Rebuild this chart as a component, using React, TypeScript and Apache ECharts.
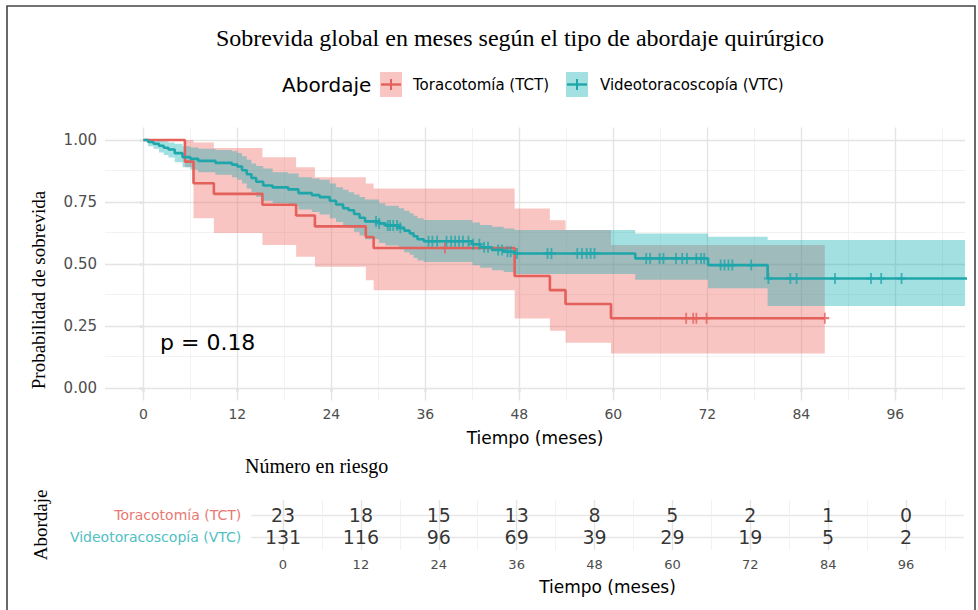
import React, { useEffect, useRef } from "react";
import * as echarts from "echarts";

// ---- Data ----
const tctTime = [0, 5.3, 6.4, 9.0, 15.2, 19.5, 21.9, 28.4, 29.4, 47.4, 51.9, 53.9, 59.7, 87.0];
const tctSurv = [1, 0.913, 0.826, 0.783, 0.739, 0.696, 0.652, 0.609, 0.565, 0.452, 0.395, 0.339, 0.282, 0.282];
const tctUpper = [1, 1.0, 0.99, 0.968, 0.931, 0.89, 0.85, 0.825, 0.805, 0.724, 0.677, 0.637, 0.577, 0.577];
const tctLower = [1, 0.89, 0.685, 0.625, 0.577, 0.53, 0.489, 0.435, 0.395, 0.281, 0.231, 0.183, 0.14, 0.14];
const tctCensor = [38.5, 69.3, 70.2, 70.6, 71.9, 87.0];

const vtcTime = [0, 0.6, 1.3, 2.0, 2.6, 3.2, 4.0, 5.0, 6.0, 7.0, 9.2, 11.3, 12.0, 12.6, 13.2, 13.8, 14.4, 15.3, 16.5, 18.5, 19.8, 21.5, 22.5, 23.8, 24.6, 25.5, 26.2, 26.9, 27.6, 28.3, 30.1, 30.9, 32.6, 33.3, 34.0, 34.5, 35.0, 35.8, 42.0, 43.0, 44.5, 46.0, 47.4, 62.8, 72.1, 79.7, 106];
const vtcSurv = [1.0, 0.992, 0.985, 0.977, 0.969, 0.962, 0.947, 0.931, 0.924, 0.916, 0.908, 0.901, 0.893, 0.878, 0.862, 0.847, 0.832, 0.817, 0.809, 0.801, 0.786, 0.778, 0.77, 0.755, 0.74, 0.725, 0.717, 0.702, 0.687, 0.672, 0.664, 0.656, 0.646, 0.635, 0.624, 0.612, 0.6, 0.592, 0.58, 0.568, 0.557, 0.55, 0.543, 0.523, 0.496, 0.442, 0.442];
const vtcUpper = [1.0, 1.0, 1.0, 1.0, 0.995, 0.99, 0.985, 0.975, 0.97, 0.965, 0.96, 0.955, 0.948, 0.935, 0.92, 0.905, 0.895, 0.885, 0.87, 0.865, 0.85, 0.845, 0.84, 0.825, 0.81, 0.8, 0.79, 0.78, 0.77, 0.76, 0.745, 0.735, 0.725, 0.715, 0.705, 0.695, 0.685, 0.678, 0.668, 0.658, 0.65, 0.643, 0.637, 0.623, 0.61, 0.597, 0.597];
const vtcLower = [1.0, 0.975, 0.965, 0.95, 0.94, 0.93, 0.91, 0.89, 0.88, 0.87, 0.86, 0.85, 0.84, 0.825, 0.805, 0.79, 0.77, 0.755, 0.745, 0.735, 0.72, 0.71, 0.7, 0.685, 0.67, 0.655, 0.645, 0.63, 0.615, 0.6, 0.585, 0.575, 0.56, 0.548, 0.538, 0.525, 0.515, 0.508, 0.495, 0.485, 0.475, 0.468, 0.46, 0.437, 0.403, 0.331, 0.331];
const vtcCensor = [29.7, 30.1, 31.2, 31.5, 31.9, 32.4, 32.8, 36.4, 36.9, 37.5, 38.7, 39.3, 39.8, 40.3, 40.8, 41.5, 42.1, 42.9, 43.5, 44.0, 45.3, 45.8, 46.5, 46.9, 47.7, 51.6, 52.1, 55.4, 56.0, 56.6, 57.1, 57.6, 64.2, 64.7, 65.9, 66.4, 68.0, 68.8, 69.4, 70.6, 71.2, 71.6, 73.7, 74.2, 74.7, 75.2, 77.6, 79.8, 82.6, 83.4, 88.3, 92.9, 94.2, 96.8];

const riskTimes = [0, 12, 24, 36, 48, 60, 72, 84, 96];
const riskTct = [23, 18, 15, 13, 8, 5, 2, 1, 0];
const riskVtc = [131, 116, 96, 69, 39, 29, 19, 5, 2];

const xTicks = [0, 12, 24, 36, 48, 60, 72, 84, 96];
const xMinor = [6, 18, 30, 42, 54, 66, 78, 90, 102];
const yTicks = [0, 0.25, 0.5, 0.75, 1];
const yMinor = [0.125, 0.375, 0.625, 0.875];

const groupNames = ["Toracotomía (TCT)", "Videotoracoscopía (VTC)"];

// ---- Styles ----
const RED = "#E4605B";
const TEAL = "#1FA6AA";
const RED_FILL = "rgba(240,110,105,0.40)";
const TEAL_FILL = "rgba(0,170,175,0.36)";
const RED_LABEL = "#E97872";
const TEAL_LABEL = "#4FC0C3";
const SANS = "DejaVu Sans";
const SERIF = "Liberation Serif";
const MAJOR = "#e4e4e4";
const MINOR = "#efefef";

const X_MIN = -4.9;
const X_MAX = 104.9;

function survAt(times: number[], surv: number[], t: number) {
  let v = surv[0];
  for (let i = 0; i < times.length; i++) {
    if (times[i] <= t) v = surv[i];
  }
  return v;
}

const PLUS = "path://M4,0H6V4H10V6H6V10H4V6H0V4H4Z";

function bandSeries(name: string, times: number[], upper: number[], lower: number[], fill: string, z: number) {
  return {
    name,
    type: "custom",
    xAxisIndex: 0,
    yAxisIndex: 0,
    silent: true,
    clip: true,
    z,
    data: [[times[0], lower[0]]],
    encode: { x: 0, y: 1 },
    renderItem: (_params: any, api: any) => {
      const n = times.length;
      const pts: number[][] = [];
      for (let i = 0; i < n - 1; i++) {
        const t0 = Math.min(times[i], X_MAX);
        const t1 = Math.min(times[i + 1], X_MAX);
        pts.push(api.coord([t0, upper[i]]));
        pts.push(api.coord([t1, upper[i]]));
      }
      for (let i = n - 2; i >= 0; i--) {
        const t0 = Math.min(times[i], X_MAX);
        const t1 = Math.min(times[i + 1], X_MAX);
        pts.push(api.coord([t1, lower[i]]));
        pts.push(api.coord([t0, lower[i]]));
      }
      return { type: "polygon", shape: { points: pts }, style: { fill } };
    },
  };
}

export default function App() {
  const ref = useRef<HTMLDivElement>(null);
  useEffect(() => {
    if (!ref.current) return;
    const chart = echarts.init(ref.current, null, { renderer: "svg" });

    const zip = (a: number[], b: number[]) => a.map((v, i) => [v, b[i]]);

    const mainGridLines = [
      ...xMinor.map((v) => ({ xAxis: v, lineStyle: { color: MINOR, width: 0.8, type: "solid" } })),
      ...yMinor.map((v) => ({ yAxis: v, lineStyle: { color: MINOR, width: 0.8, type: "solid" } })),
      ...xTicks.map((v) => ({ xAxis: v, lineStyle: { color: MAJOR, width: 1.4, type: "solid" } })),
      ...yTicks.map((v) => ({ yAxis: v, lineStyle: { color: MAJOR, width: 1.4, type: "solid" } })),
    ];
    const tableGridLines = [
      ...xMinor.map((v) => ({ xAxis: v, lineStyle: { color: MINOR, width: 0.8, type: "solid" } })),
      ...xTicks.map((v) => ({ xAxis: v, lineStyle: { color: MAJOR, width: 1.4, type: "solid" } })),
    ];

    const option: any = {
      animation: false,
      backgroundColor: "#ffffff",
      grid: [
        { left: 105, top: 127.6, width: 860, height: 273, show: false },
        { left: 251.2, top: 500, width: 712.6, height: 50, show: false },
        { left: 251.2, top: 515, width: 712.6, height: 22, show: false },
      ],
      xAxis: [
        {
          type: "value",
          gridIndex: 0,
          min: X_MIN,
          max: X_MAX,
          axisLine: { show: false },
          splitLine: { show: false },
          axisTick: { show: true, customValues: xTicks, length: 4, lineStyle: { color: "#333", width: 1.2 } },
          axisLabel: { customValues: xTicks, color: "#4D4D4D", fontFamily: SANS, fontSize: 14, margin: 6 },
          name: "Tiempo (meses)",
          nameLocation: "middle",
          nameGap: 29,
          nameTextStyle: { color: "#000", fontFamily: SANS, fontSize: 17 },
        },
        {
          type: "value",
          gridIndex: 1,
          min: X_MIN,
          max: X_MAX,
          axisLine: { show: false },
          splitLine: { show: false },
          axisTick: { show: false },
          axisLabel: { customValues: riskTimes, color: "#4D4D4D", fontFamily: SANS, fontSize: 13, margin: 8 },
          name: "Tiempo (meses)",
          nameLocation: "middle",
          nameGap: 28,
          nameTextStyle: { color: "#000", fontFamily: SANS, fontSize: 17 },
        },
        {
          type: "value",
          gridIndex: 2,
          min: X_MIN,
          max: X_MAX,
          show: false,
        },
      ],
      yAxis: [
        {
          type: "value",
          gridIndex: 0,
          min: -0.05,
          max: 1.05,
          axisLine: { show: false },
          splitLine: { show: false },
          axisTick: { show: true, customValues: yTicks, length: 4, lineStyle: { color: "#333", width: 1.2 } },
          axisLabel: {
            customValues: yTicks,
            color: "#4D4D4D",
            fontFamily: SANS,
            fontSize: 15,
            margin: 8,
            formatter: (v: number) => v.toFixed(2),
          },
        },
        {
          type: "value",
          gridIndex: 1,
          min: 0,
          max: 1,
          show: false,
        },
        {
          type: "category",
          gridIndex: 2,
          boundaryGap: false,
          data: [
            { value: groupNames[1], textStyle: { color: TEAL_LABEL } },
            { value: groupNames[0], textStyle: { color: RED_LABEL } },
          ],
          axisLine: { show: false },
          axisTick: { show: false },
          axisLabel: { fontFamily: SANS, fontSize: 14, margin: 10 },
          splitLine: { show: true, lineStyle: { color: "#e6e6e6", width: 1.3 } },
        },
      ],
      series: [
        {
          name: "gridMain",
          type: "line",
          xAxisIndex: 0,
          yAxisIndex: 0,
          data: [],
          silent: true,
          z: 0,
          markLine: { silent: true, symbol: "none", z: 1, label: { show: false }, data: mainGridLines },
        },
        bandSeries("tctBand", tctTime, tctUpper, tctLower, RED_FILL, 2),
        bandSeries("vtcBand", vtcTime, vtcUpper, vtcLower, TEAL_FILL, 3),
        {
          name: groupNames[0],
          type: "line",
          xAxisIndex: 0,
          yAxisIndex: 0,
          step: "end",
          symbol: "none",
          lineStyle: { color: RED, width: 2.6 },
          data: zip(tctTime, tctSurv),
          z: 5,
        },
        {
          name: groupNames[1],
          type: "line",
          xAxisIndex: 0,
          yAxisIndex: 0,
          step: "end",
          symbol: "none",
          lineStyle: { color: TEAL, width: 2.6 },
          data: zip(vtcTime, vtcSurv),
          z: 6,
        },
        {
          name: "tctCensor",
          type: "scatter",
          xAxisIndex: 0,
          yAxisIndex: 0,
          symbol: PLUS,
          symbolSize: [9, 11],
          itemStyle: { color: RED },
          data: tctCensor.map((t) => [t, survAt(tctTime, tctSurv, t)]),
          z: 7,
        },
        {
          name: "vtcCensor",
          type: "scatter",
          xAxisIndex: 0,
          yAxisIndex: 0,
          symbol: PLUS,
          symbolSize: [9, 11],
          itemStyle: { color: TEAL },
          data: vtcCensor.map((t) => [t, survAt(vtcTime, vtcSurv, t)]),
          z: 8,
        },
        {
          name: "gridTable",
          type: "line",
          xAxisIndex: 1,
          yAxisIndex: 1,
          data: [],
          silent: true,
          z: 0,
          markLine: { silent: true, symbol: "none", z: 1, label: { show: false }, data: tableGridLines },
        },
        {
          name: "riskTct",
          type: "scatter",
          xAxisIndex: 2,
          yAxisIndex: 2,
          symbolSize: 0,
          silent: true,
          label: {
            show: true,
            position: "inside",
            color: "#000",
            fontFamily: SANS,
            fontSize: 19,
            formatter: (p: any) => String(p.value[2]),
          },
          data: riskTimes.map((t, i) => [t, 1, riskTct[i]]),
          z: 5,
        },
        {
          name: "riskVtc",
          type: "scatter",
          xAxisIndex: 2,
          yAxisIndex: 2,
          symbolSize: 0,
          silent: true,
          label: {
            show: true,
            position: "inside",
            color: "#000",
            fontFamily: SANS,
            fontSize: 19,
            formatter: (p: any) => String(p.value[2]),
          },
          data: riskTimes.map((t, i) => [t, 0, riskVtc[i]]),
          z: 5,
        },
      ],
      graphic: [
        {
          type: "rect",
          shape: { x: 7, y: 6, width: 968, height: 620 },
          style: { fill: "none", stroke: "#444", lineWidth: 1.6 },
          silent: true,
          z: 100,
        },
        {
          type: "text",
          x: 520,
          y: 38,
          style: {
            text: "Sobrevida global en meses según el tipo de abordaje quirúrgico",
            fontFamily: SERIF,
            fontSize: 24,
            fill: "#000",
            align: "center",
            verticalAlign: "middle",
          },
        },
        {
          type: "text",
          x: 282,
          y: 85,
          style: { text: "Abordaje", fontFamily: SANS, fontSize: 20, fill: "#000", align: "left", verticalAlign: "middle" },
        },
        { type: "rect", shape: { x: 380, y: 72, width: 22, height: 25 }, style: { fill: RED_FILL } },
        { type: "line", shape: { x1: 381, y1: 84.5, x2: 401, y2: 84.5 }, style: { stroke: RED, lineWidth: 2.4 } },
        { type: "line", shape: { x1: 391, y1: 79, x2: 391, y2: 90 }, style: { stroke: RED, lineWidth: 2 } },
        {
          type: "text",
          x: 413,
          y: 85,
          style: { text: groupNames[0], fontFamily: SANS, fontSize: 15, fill: "#000", align: "left", verticalAlign: "middle" },
        },
        { type: "rect", shape: { x: 566, y: 72, width: 22, height: 25 }, style: { fill: TEAL_FILL } },
        { type: "line", shape: { x1: 567, y1: 84.5, x2: 587, y2: 84.5 }, style: { stroke: TEAL, lineWidth: 2.4 } },
        { type: "line", shape: { x1: 577, y1: 79, x2: 577, y2: 90 }, style: { stroke: TEAL, lineWidth: 2 } },
        {
          type: "text",
          x: 600,
          y: 85,
          style: { text: groupNames[1], fontFamily: SANS, fontSize: 15, fill: "#000", align: "left", verticalAlign: "middle" },
        },
        {
          type: "text",
          x: 38,
          y: 290,
          rotation: Math.PI / 2,
          style: {
            text: "Probabilidad de sobrevida",
            fontFamily: SERIF,
            fontSize: 19,
            fill: "#000",
            align: "center",
            verticalAlign: "middle",
          },
        },
        {
          type: "text",
          x: 160,
          y: 342,
          style: { text: "p = 0.18", fontFamily: SANS, fontSize: 22, fill: "#000", align: "left", verticalAlign: "middle" },
          z: 50,
        },
        {
          type: "text",
          x: 245,
          y: 466,
          style: { text: "Número en riesgo", fontFamily: SERIF, fontSize: 20, fill: "#000", align: "left", verticalAlign: "middle" },
        },
        {
          type: "text",
          x: 40,
          y: 525,
          rotation: Math.PI / 2,
          style: { text: "Abordaje", fontFamily: SERIF, fontSize: 19, fill: "#000", align: "center", verticalAlign: "middle" },
        },
      ],
    };

    chart.setOption(option);
    return () => chart.dispose();
  }, []);

  return (
    <div
      ref={ref}
      style={{ position: "fixed", left: 0, top: 0, width: 978, height: 610, background: "#fff" }}
    />
  );
}
